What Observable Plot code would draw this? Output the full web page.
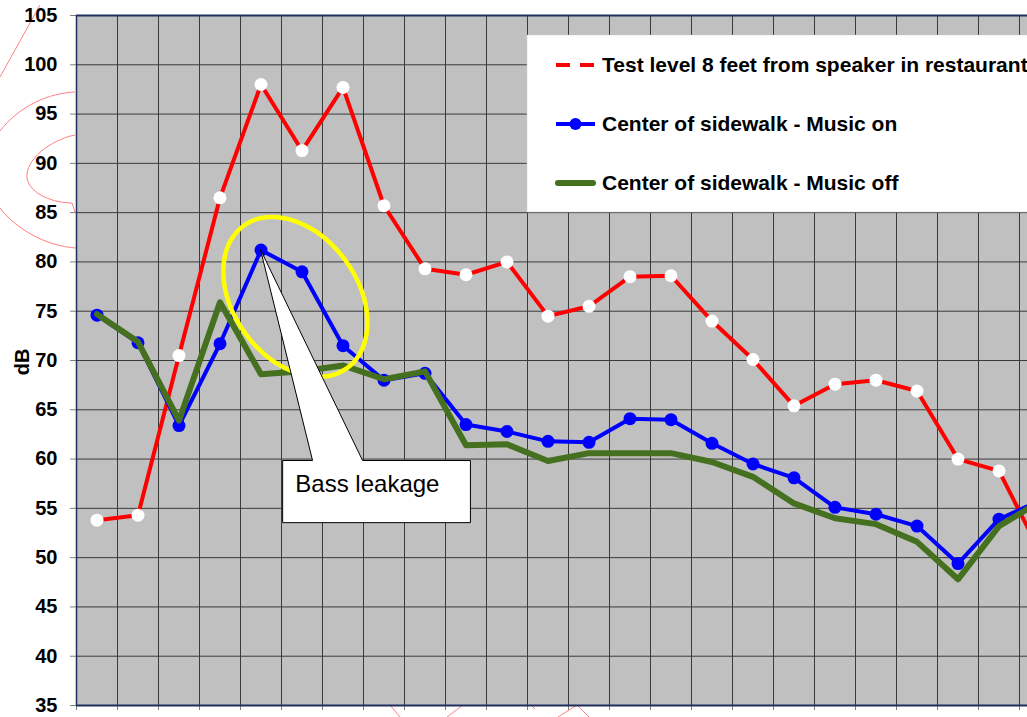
<!DOCTYPE html>
<html><head><meta charset="utf-8">
<script src="https://cdn.jsdelivr.net/npm/d3@7"></script>
<script src="https://cdn.jsdelivr.net/npm/@observablehq/plot@0.6"></script>
<style>
html,body{margin:0;padding:0;background:#fff;overflow:hidden;}
#chart svg{display:block;overflow:hidden;}
</style></head><body><div id="chart"></div>
<script>
// ---- data ----
const bands = [0,1,2,3,4,5,6,7,8,9,10,11,12,13,14,15,16,17,18,19,20,21,22,23];
const testLevel = [53.8,54.3,70.5,86.5,98.0,91.3,97.7,85.7,79.3,78.7,80.0,74.5,75.5,78.5,78.6,74.0,70.1,65.4,67.6,68.0,66.9,60.0,58.8,50.6];
const musicOn   = [74.6,71.8,63.4,71.7,81.2,79.0,71.5,68.0,68.7,63.5,62.8,61.8,61.7,64.1,64.0,61.6,59.5,58.1,55.1,54.4,53.2,49.4,53.9,55.8];
const musicOff  = [74.7,71.9,63.9,75.9,68.6,68.9,69.5,68.1,68.9,61.4,61.5,59.8,60.6,60.6,60.6,59.7,58.2,55.5,54.0,53.4,51.6,47.8,53.2,55.7];
const yTicks = [35,40,45,50,55,60,65,70,75,80,85,90,95,100,105];
const seriesNames = ["Test level 8 feet from speaker in restaurant","Center of sidewalk - Music on","Center of sidewalk - Music off"];
const seriesColors = ["#ff0000","#0000ff","#44701f"];
const yLabel = "dB";
const calloutText = "Bass leakage";

const rows = vals => bands.map((b,i)=>({band:b, db:vals[i]}));
const red = rows(testLevel), blue = rows(musicOn), green = rows(musicOff);
const cellEdges = bands.map(b => b - 0.5);

const plot = Plot.plot({
  width: 1027, height: 717,
  marginLeft: 76, marginRight: 0, marginTop: 15, marginBottom: 12,
  style: {background: "transparent", fontFamily: "'Liberation Sans', Arial, sans-serif", color: "black"},
  x: {type: "linear", domain: [-0.5, 22.695]},
  y: {domain: [35, 105]},
  marks: [
    Plot.frame({fill: "#c0c0c0", stroke: "none"}),
    Plot.ruleX(cellEdges, {stroke: "#3a3a3a", strokeWidth: 1, clip: true}),
    Plot.ruleY(yTicks, {stroke: "#3a3a3a", strokeWidth: 1}),
    Plot.axisY(yTicks, {tickSize: 6, tickPadding: 13, fontSize: 20, fontWeight: "bold", stroke: "#7f7f7f", fill: "black", label: null}),
    Plot.axisX(cellEdges, {tickSize: 5, tickFormat: () => "", stroke: "#7f7f7f", label: null}),
    Plot.ruleX([-0.5], {stroke: "#1f2f5f", strokeWidth: 1.5}),
    Plot.ruleY([35], {stroke: "#1f2f5f", strokeWidth: 2}),
    Plot.ruleY([105], {stroke: "#1f2f5f", strokeWidth: 2}),
    Plot.line(red, {x: "band", y: "db", stroke: seriesColors[0], strokeWidth: 4, clip: true}),
    Plot.dot(red, {x: "band", y: "db", fill: "white", stroke: "none", r: 6.5, clip: true}),
    Plot.line(blue, {x: "band", y: "db", stroke: seriesColors[1], strokeWidth: 4, clip: true}),
    Plot.dot(blue, {x: "band", y: "db", fill: seriesColors[1], stroke: "none", r: 6.5, clip: true}),
    Plot.line(green, {x: "band", y: "db", stroke: seriesColors[2], strokeWidth: 6, clip: true})
  ]
});
document.getElementById("chart").appendChild(plot);

const sx = plot.scale("x"), sy = plot.scale("y");
const X = v => sx.apply(v), Y = v => sy.apply(v);
const svg = d3.select(plot);
const FONT = "'Liberation Sans', Arial, sans-serif";

// decorative pink scribbles behind everything
const deco = svg.insert("g", ":first-child").attr("fill", "none").attr("stroke", "#ff8080").attr("stroke-width", 1);
[
  "M0,77 L40,5",
  "M75,92 C50,93 20,105 0,131",
  "M75,135 C50,140 25,160 27,178 C30,195 55,203 72,203 L75,212",
  "M0,208 C15,228 45,246 76,248",
  "M390,705 L400,717", "M463,705 L447,717",
  "M531,705 L535,709", "M558,717 L577,705 L589,717"
].forEach(d => deco.append("path").attr("d", d));

// y label
svg.append("text").attr("transform", "translate(22,362) rotate(-90)")
  .attr("text-anchor", "middle").attr("dy", "0.35em")
  .attr("font-family", FONT)
  .attr("font-size", 20).attr("font-weight", "bold").text(yLabel);

// yellow ellipse around the bass peak
const ex = X(4.85), ey = Y(76.4);
svg.append("ellipse").attr("cx", 0).attr("cy", 0).attr("rx", 88).attr("ry", 62)
  .attr("transform", `translate(${ex},${ey}) rotate(54)`)
  .attr("fill", "none").attr("stroke", "#ffff00").attr("stroke-width", 4.5);

// callout
const tipX = X(bands[4]), tipY = Y(musicOn[4]);
const bx1 = X(4.54), bx2 = X(9.12), by1 = Y(59.8), by2 = Y(53.5);
const b1 = X(5.27), b2 = X(6.49);
svg.append("path")
  .attr("d", `M${tipX},${tipY} L${b2},${by1} L${bx2},${by1} L${bx2},${by2} L${bx1},${by2} L${bx1},${by1} L${b1},${by1} Z`)
  .attr("fill", "white").attr("stroke", "black").attr("stroke-width", 1);
svg.append("text").attr("x", X(4.85)).attr("y", Y(56.6))
  .attr("text-anchor", "start")
  .attr("font-family", FONT).attr("font-size", 24)
  .text(calloutText);

// legend
const lg = svg.append("g").attr("font-family", FONT).attr("text-anchor", "start");
lg.append("rect").attr("x", 527).attr("y", 35).attr("width", 520).attr("height", 177)
  .attr("fill", "white").attr("stroke", "#d0d0d0").attr("stroke-width", 0.5);
const rowY = [65, 124, 183];
lg.append("line").attr("x1", 556).attr("x2", 596).attr("y1", rowY[0]).attr("y2", rowY[0])
  .attr("stroke", seriesColors[0]).attr("stroke-width", 4).attr("stroke-dasharray", "14,10");
lg.append("line").attr("x1", 556).attr("x2", 595).attr("y1", rowY[1]).attr("y2", rowY[1])
  .attr("stroke", seriesColors[1]).attr("stroke-width", 4);
lg.append("circle").attr("cx", 575.5).attr("cy", rowY[1]).attr("r", 6).attr("fill", seriesColors[1]);
lg.append("line").attr("x1", 558).attr("x2", 593).attr("y1", rowY[2]).attr("y2", rowY[2])
  .attr("stroke", seriesColors[2]).attr("stroke-width", 6).attr("stroke-linecap", "round");
seriesNames.forEach((n, i) => {
  lg.append("text").attr("x", 602).attr("y", rowY[i] + 7).attr("font-size", 21)
    .attr("text-anchor", "start")
    .attr("font-weight", "bold").text(n);
});
</script></body></html>
